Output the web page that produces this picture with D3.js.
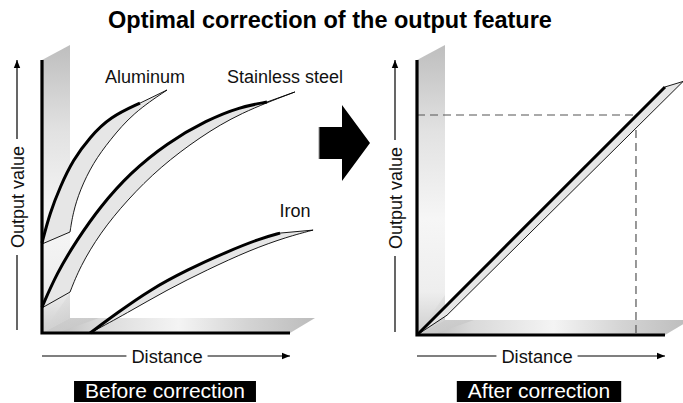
<!DOCTYPE html>
<html><head><meta charset="utf-8">
<script src="https://cdn.jsdelivr.net/npm/d3@7"></script>
<style>
body{margin:0;background:#fff;}
svg{display:block;font-family:"Liberation Sans",Arial,Helvetica,sans-serif;}
</style></head>
<body><svg id="c" width="683" height="403"></svg>
<script>
// ---------- data ----------
const title = "Optimal correction of the output feature";
const panelTitles = ["Before correction", "After correction"];
const axisLabelX = "Distance";
const axisLabelY = "Output value";
const materials = ["Aluminum", "Stainless steel", "Iron"];

// before correction: thick measured curve, thin tip, lower band edge (x: distance 0-100, y: output 0-100)
const aluminumCurve = [[0,33],[3.2,44],[7.3,53.5],[12.5,63.4],[19.4,71.8],[27.4,79.1],[39.5,84.2]];
const aluminumTip = [50.4,89];
const aluminumKnee = [[0,32.6],[11.3,37]];
const aluminumLower = [[11.3,37],[12.5,44],[15.3,52.4],[20.6,62.3],[27.4,70.7],[36.7,80.6],[50.4,89]];

const steelCurve = [[0,9.5],[6,22],[14.1,34.1],[23.4,46.2],[35.5,58.6],[50.4,69.6],[66.5,78],[79.8,82.8],[90.7,84.6]];
const steelTip = [102,88.3];
const steelKnee = [[0,9.2],[11.3,15]];
const steelLower = [[11.3,15],[15.3,24.2],[23.4,36.6],[34.3,48.7],[47.6,60.8],[63.7,71.8],[79.8,80.6],[102,88.3]];

const ironCurve = [[19.4,0],[30.2,7.3],[43.5,15.8],[58.5,23.1],[74.6,29.8],[87.9,34.6],[96,36.6]];
const ironTip = [109.3,37.7];
const ironKnee = [[19.4,0],[19.4,0]];
const ironLower = [[19.4,0],[34.3,7.3],[50.4,15.8],[66.5,23.1],[83.9,30.4],[98.8,35.2],[109.3,37.7]];

// after correction
const correctedCurve = [[0,0],[100,90.2]];
const correctedTip = [107.3,92.2];
const correctedKnee = [[0,0],[12.1,7.2]];
const correctedLower = [[12.1,7.2],[107.3,92.2]];
const targetPoint = [88.3,80];

const materialLabelPos = [[41.5,91.6], [98,91.6], [102,42.5]];

// ---------- drawing ----------
const svg = d3.select("#c");
const defs = svg.append("defs");

const wallG = defs.append("linearGradient").attr("id","wall").attr("x1",0).attr("y1",0).attr("x2",0).attr("y2",1);
[[0,"#bebebe"],[0.3,"#e2e2e2"],[0.6,"#f6f6f6"],[0.85,"#eeeeee"],[1,"#cdcdcd"]].forEach(s=>wallG.append("stop").attr("offset",s[0]).attr("stop-color",s[1]));
const floorG = defs.append("linearGradient").attr("id","floor").attr("x1",0).attr("y1",0).attr("x2",1).attr("y2",0);
[[0,"#b5b5b5"],[0.2,"#d9d9d9"],[0.5,"#f4f4f4"],[0.75,"#d4d4d4"],[1,"#bcbcbc"]].forEach(s=>floorG.append("stop").attr("offset",s[0]).attr("stop-color",s[1]));
const cornerG = defs.append("linearGradient").attr("id","corner").attr("x1",0).attr("y1",0).attr("x2",1).attr("y2",1);
[[0,"#e8e8e8"],[1,"#bdbdbd"]].forEach(s=>cornerG.append("stop").attr("offset",s[0]).attr("stop-color",s[1]));

defs.append("marker").attr("id","arr").attr("viewBox","0 0 10 10").attr("refX",10).attr("refY",5)
  .attr("markerWidth",8).attr("markerHeight",8).attr("markerUnits","userSpaceOnUse").attr("orient","auto")
  .append("path").attr("d","M0,1 L10,5 L0,9 Z").attr("fill","#000");

// title
svg.append("text").attr("x",330).attr("y",28).attr("text-anchor","middle")
  .attr("font-weight","bold").attr("font-size",23.5).attr("fill","#000").text(title);

const depthX = 27, depthY = 15;

function joinPaths(parts){
  return parts.map((p,i)=> i===0 ? p : p.replace(/^M/,"L")).join("") + "Z";
}

function panel(xr, yr, bands, labels, cfg){
  const x = d3.scaleLinear().domain([0,100]).range(xr);
  const y = d3.scaleLinear().domain([0,100]).range(yr);
  const g = svg.append("g");
  const x0=x(0), x1=x(100), y0=y(0), y1=y(100);
  // wall and floor
  g.append("path").attr("d",`M${x0},${y1} L${x0+depthX+1},${y1-depthY} L${x0+depthX+1},${y0-depthY} L${x0},${y0} Z`).attr("fill","url(#wall)");
  g.append("path").attr("d",`M${x0},${y0} L${x0+depthX+1},${y0-depthY} L${x1+depthX-2},${y0-depthY} L${x1},${y0} Z`).attr("fill","url(#floor)");
  g.append("path").attr("d",`M${x0},${y0} L${x0+depthX+1},${y0-depthY-25} L${x0+depthX+1},${y0-depthY} L${x0+depthX+30},${y0-depthY} L${x0+15},${y0} Z`).attr("fill","url(#corner)").attr("opacity",0.7);

  // dashed target lines
  if(cfg.target){
    const t = cfg.target;
    g.append("path").attr("d",`M${x0},${y(t[1])} L${x(t[0])},${y(t[1])} L${x(t[0])},${y0}`)
      .attr("fill","none").attr("stroke","#555").attr("stroke-width",1.2).attr("stroke-dasharray","8,5");
  }

  const smooth = d3.line().x(d=>x(d[0])).y(d=>y(d[1])).curve(d3.curveBasis);
  const straight = d3.line().x(d=>x(d[0])).y(d=>y(d[1]));
  bands.forEach(b=>{
    const upper = smooth(b.curve);
    const tipSeg = straight([b.curve[b.curve.length-1], b.tip]);
    const lowerRev = smooth(b.lower.slice().reverse());
    const kneeRev = straight(b.knee.slice().reverse());
    g.append("path").attr("d", joinPaths([upper, tipSeg, lowerRev, kneeRev]))
      .attr("fill","#e6e6e6").attr("stroke","#000").attr("stroke-width",0.9).attr("stroke-linejoin","miter");
    g.append("path").attr("d", upper).attr("fill","none").attr("stroke","#000").attr("stroke-width",3).attr("stroke-linecap","butt");
  });

  // axes
  g.append("path").attr("d",`M${x0},${y1} L${x0},${y0} L${x1},${y0}`)
    .attr("fill","none").attr("stroke","#000").attr("stroke-width",3.2).attr("stroke-linejoin","miter");

  // material labels
  labels.forEach(l=>{
    g.append("text").attr("x",x(l.pos[0])).attr("y",y(l.pos[1])).attr("text-anchor","middle")
      .attr("font-size",18).attr("fill","#111").text(l.name);
  });

  // y-axis label with arrow
  const ly = cfg.yLabelX, cy = (y0+y1)/2 + 0.5;
  const yt = g.append("text").attr("transform",`translate(${ly+6.5},${cy}) rotate(-90)`).attr("text-anchor","middle")
    .attr("font-size",18).attr("fill","#111").text(axisLabelY);
  const yl = yt.node().getComputedTextLength();
  g.append("line").attr("x1",ly).attr("x2",ly).attr("y1",y0-3).attr("y2",cy+yl/2+7).attr("stroke","#000").attr("stroke-width",1.2);
  g.append("line").attr("x1",ly).attr("x2",ly).attr("y1",cy-yl/2-7).attr("y2",y1).attr("stroke","#000").attr("stroke-width",1.2).attr("marker-end","url(#arr)");

  // x-axis label with arrow
  const cx = cfg.xLabelC, lyx = 356;
  const xt = g.append("text").attr("x",cx).attr("y",lyx+6.5).attr("text-anchor","middle")
    .attr("font-size",18.3).attr("fill","#111").text(axisLabelX);
  const xl = xt.node().getComputedTextLength();
  g.append("line").attr("x1",x0).attr("x2",cx-xl/2-5).attr("y1",lyx).attr("y2",lyx).attr("stroke","#000").attr("stroke-width",1.2);
  g.append("line").attr("x1",cx+xl/2+5).attr("x2",x1).attr("y1",lyx).attr("y2",lyx).attr("stroke","#000").attr("stroke-width",1.2).attr("marker-end","url(#arr)");

  // panel caption box
  const bt = g.append("text").attr("x",cfg.boxC).attr("y",398).attr("text-anchor","middle")
    .attr("font-size",21).attr("fill","#fff").text(cfg.caption);
  const bw = bt.node().getComputedTextLength();
  g.insert("rect", () => bt.node()).attr("x",cfg.boxC-bw/2-11).attr("y",381).attr("width",bw+22).attr("height",21).attr("fill","#000");
}

panel([42,290],[333,60],
  [{curve:aluminumCurve,tip:aluminumTip,knee:aluminumKnee,lower:aluminumLower},
   {curve:steelCurve,tip:steelTip,knee:steelKnee,lower:steelLower},
   {curve:ironCurve,tip:ironTip,knee:ironKnee,lower:ironLower}],
  materials.map((m,i)=>({name:m,pos:materialLabelPos[i]})),
  {yLabelX:17, xLabelC:167, boxC:165, caption:panelTitles[0]});

panel([417,665],[335,60],
  [{curve:correctedCurve,tip:correctedTip,knee:correctedKnee,lower:correctedLower}],
  [],
  {yLabelX:395, xLabelC:537, boxC:539, caption:panelTitles[1], target:targetPoint});

// central arrow
svg.append("path").attr("d","M319,127 L342,127 L342,105 L370,143 L342,181 L342,159 L319,159 Z").attr("fill","#000");
svg.append("line").attr("x1",319).attr("x2",319).attr("y1",127).attr("y2",159).attr("stroke","#999").attr("stroke-width",1);
</script></body></html>
